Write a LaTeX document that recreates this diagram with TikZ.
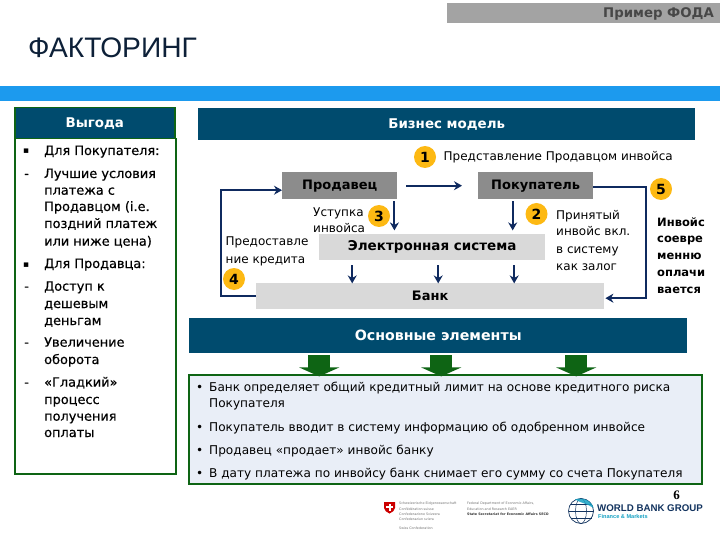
\documentclass[tikz,border=0pt]{standalone}
\usepackage{fontspec}
\usetikzlibrary{arrows.meta}
\setmainfont{DejaVu Sans}
\newfontfamily\arialf{Liberation Sans}
\newfontfamily\seriff{Liberation Serif}
\newfontfamily\medf[FakeBold=0.5]{DejaVu Sans}
\definecolor{band}{HTML}{004B6E}
\definecolor{skyb}{HTML}{1C9AEE}
\definecolor{grn}{HTML}{0E6414}
\definecolor{navy}{HTML}{0F2A5F}
\definecolor{gold}{HTML}{FDB913}
\definecolor{lightb}{HTML}{E9EEF7}
\definecolor{wbblue}{HTML}{12335F}
\definecolor{wbteal}{HTML}{17A2C4}
\definecolor{ttl}{HTML}{0D2038}
\tikzset{
  x=1pt,y=-1pt,
  bandbox/.style={fill=band,text=white,inner sep=0,anchor=north west,font=\fontsize{13.4}{15}\selectfont\bfseries},
  greybox/.style={fill=#1,inner sep=0,anchor=north west,font=\fontsize{13}{15}\selectfont\bfseries},
  arr/.style={draw=navy,line width=2pt,-{Stealth[length=8pt,width=9pt]}},
  bigarr/.style={draw=grn,line width=22pt,-{Triangle[length=9pt,width=40pt]}},
  num/.style={circle,fill=gold,minimum size=22pt,inner sep=0,font=\fontsize{14}{14}\selectfont\bfseries},
  txt/.style={anchor=base west,yshift=-4pt,inner sep=0,font=\fontsize{12}{14}\selectfont},
  ptxt/.style={anchor=base west,yshift=-4pt,inner sep=0,font=\fontsize{12.1}{14}\selectfont},
  btxt/.style={anchor=base west,yshift=-4pt,inner sep=0,font=\fontsize{11.5}{14}\selectfont\bfseries},
  ltxt/.style={anchor=base west,yshift=-4pt,inner sep=0,font=\medf\fontsize{12.9}{14}\selectfont},
  lbul/.style={anchor=base west,yshift=-4pt,inner sep=0,font=\fontsize{9}{10}\selectfont},
  tiny/.style={anchor=west,inner sep=0,text=black!55,font=\fontsize{3.3}{4}\selectfont},
}
\begin{document}
\begin{tikzpicture}
\useasboundingbox (0,0) rectangle (720,540);
\fill[white] (0,0) rectangle (720,540);
% header
\node[anchor=north west,fill=black!36,minimum width=273pt,minimum height=20pt,inner sep=0] (tag) at (447,3) {};
\node[anchor=east,inner sep=0,font=\fontsize{13.3}{15}\selectfont\bfseries,text=black!72] (tagt) at (714,14) {Пример ФОДА};
\node[anchor=west,inner sep=0,text=ttl,font=\arialf\fontsize{28.2}{30}\selectfont] (title) at (28,47.5) {ФАКТОРИНГ};
\node[anchor=north west,fill=skyb,minimum width=720pt,minimum height=15pt,inner sep=0] (sky) at (0,86) {};
% left panel
\node[anchor=north west,draw=grn,line width=1.5pt,minimum width=161pt,minimum height=335pt,inner sep=0] (panel) at (14,138) {};
\node[bandbox,draw=grn,line width=1.5pt,minimum width=160pt,minimum height=31pt] (vyg) at (14,107) {Выгода};
\node[lbul] (l1b) at (23,150) {▪};
\node[ltxt] (l1) at (44,151) {Для Покупателя:};
\node[ltxt] (l2b) at (24,174) {-};
\node[ltxt] (l2a) at (44,174) {Лучшие условия};
\node[ltxt] (l2c) at (44,190.7) {платежа с};
\node[ltxt] (l2d) at (44,207) {Продавцом (i.e.};
\node[ltxt] (l2e) at (44,224) {поздний платеж};
\node[ltxt] (l2f) at (44,241.7) {или ниже цена)};
\node[lbul] (l3b) at (23,263) {▪};
\node[ltxt] (l3) at (44,264) {Для Продавца:};
\node[ltxt] (l4b) at (24,286.7) {-};
\node[ltxt] (l4a) at (44,286.7) {Доступ к};
\node[ltxt] (l4c) at (44,304) {дешевым};
\node[ltxt] (l4d) at (44,321) {деньгам};
\node[ltxt] (l5b) at (24,342.7) {-};
\node[ltxt] (l5a) at (44,342.7) {Увеличение};
\node[ltxt] (l5c) at (44,360) {оборота};
\node[ltxt] (l6b) at (24,382.7) {-};
\node[ltxt] (l6a) at (44,382.7) {«Гладкий»};
\node[ltxt] (l6c) at (44,400) {процесс};
\node[ltxt] (l6d) at (44,416.7) {получения};
\node[ltxt] (l6e) at (44,433) {оплаты};
% business model
\node[bandbox,minimum width=497pt,minimum height=32pt] (biz) at (198,108) {Бизнес модель};
\node[num] (n1) at (425,157) {1};
\node[txt] (t1) at (443.5,157) {Представление Продавцом инвойса};
\node[greybox=black!45,minimum width=115pt,minimum height=27pt] (sel) at (282,172) {Продавец};
\node[greybox=black!45,minimum width=115pt,minimum height=27pt] (buy) at (478,172) {Покупатель};
\node[greybox=black!15,minimum width=226pt,minimum height=26pt,font=\fontsize{13.5}{15}\selectfont\bfseries] (sys) at (319,234) {Электронная система};
\node[greybox=black!15,minimum width=348pt,minimum height=26pt] (bank) at (256,283) {Банк};
\node[num] (n5) at (661,189) {5};
\node[num] (n3) at (379,216) {3};
\node[num] (n2) at (536.5,214) {2};
\node[num] (n4) at (234,279) {4};
\node[txt] (t3a) at (313,212) {Уступка};
\node[txt] (t3b) at (313,228.5) {инвойса};
\node[txt] (t4a) at (225.5,241.5) {Предоставле};
\node[txt] (t4b) at (225.5,259) {ние кредита};
\node[txt] (t2a) at (556,215) {Принятый};
\node[txt] (t2b) at (556,232) {инвойс вкл.};
\node[txt] (t2c) at (556,249) {в систему};
\node[txt] (t2d) at (556,266) {как залог};
\node[btxt] (t5a) at (657,222) {Инвойс};
\node[btxt] (t5b) at (657,238.5) {соевре};
\node[btxt] (t5c) at (657,255) {менню};
\node[btxt] (t5d) at (657,272) {оплачи};
\node[btxt] (t5e) at (657,289) {вается};
\draw[arr] ([xshift=9pt]sel.east) -- ([xshift=-16pt]buy.west);
\draw[arr] ([xshift=-3pt,yshift=-2pt]sel.south east) -- ([xshift=-3pt,yshift=-31pt]sel.south east);
\draw[arr] ([xshift=-23pt,yshift=-2pt]buy.south) -- ([xshift=-23pt,yshift=-31pt]buy.south);
\draw[arr] ([xshift=-80pt,yshift=-5pt]sys.south) -- ([xshift=-80pt,yshift=-23pt]sys.south);
\draw[arr] ([xshift=6pt,yshift=-5pt]sys.south) -- ([xshift=6pt,yshift=-23pt]sys.south);
\draw[arr] ([xshift=82pt,yshift=-5pt]sys.south) -- ([xshift=82pt,yshift=-23pt]sys.south);
\draw[arr] (bank.west) -- ++(-35,0) |- ([yshift=-4.5pt]sel.west);
\draw[arr] ([yshift=-1.5pt]buy.east) -- ++(53,0) |- ([xshift=1pt,yshift=-2pt]bank.east);
% main elements
\node[bandbox,minimum width=498pt,minimum height=35pt,font=\fontsize{14.2}{16}\selectfont\bfseries] (elem) at (189,318) {Основные элементы};
\node[anchor=north west,draw=grn,line width=2pt,fill=lightb,minimum width=513pt,minimum height=109pt,inner sep=0] (pts) at (188,374) {};
\draw[bigarr] ([xshift=-119pt,yshift=-2pt]elem.south) -- ([xshift=-119pt,yshift=-23pt]elem.south);
\draw[bigarr] ([xshift=3pt,yshift=-2pt]elem.south) -- ([xshift=3pt,yshift=-23pt]elem.south);
\draw[bigarr] ([xshift=138pt,yshift=-2pt]elem.south) -- ([xshift=138pt,yshift=-23pt]elem.south);
\node[ptxt] (p1b) at (196,387.7) {•};
\node[ptxt] (p1a) at (209,387.7) {Банк определяет общий кредитный лимит на основе кредитного риска};
\node[ptxt] (p1c) at (209,403.5) {Покупателя};
\node[ptxt] (p2b) at (196,427) {•};
\node[ptxt] (p2) at (209,427) {Покупатель вводит в систему информацию об одобренном инвойсе};
\node[ptxt] (p3b) at (196,450) {•};
\node[ptxt] (p3) at (209,450) {Продавец «продает» инвойс банку};
\node[ptxt] (p4b) at (196,473) {•};
\node[ptxt] (p4) at (209,473) {В дату платежа по инвойсу банк снимает его сумму со счета Покупателя};
% page number
\node[anchor=center,inner sep=0,font=\seriff\bfseries\fontsize{13}{13}\selectfont] (pg) at (676.5,495.5) {6};
% Swiss logo
\fill[red!80!black] (384,502) -- (395,502) -- (395,508) .. controls (395,510.5) and (392,512.5) .. (389.5,513.5) .. controls (387,512.5) and (384,510.5) .. (384,508) -- cycle;
\fill[white] (388.5,503.8) rectangle (390.5,510.5);
\fill[white] (386.2,506.1) rectangle (392.8,508.1);
\node[tiny] (s1) at (399,504) {Schweizerische Eidgenossenschaft};
\node[tiny] (s2) at (399,509) {Confédération suisse};
\node[tiny] (s3) at (399,514) {Confederazione Svizzera};
\node[tiny] (s4) at (399,519) {Confederaziun svizra};
\node[tiny] (s5) at (399,528) {Swiss Confederation};
\node[tiny] (f1) at (467,504) {Federal Department of Economic Affairs,};
\node[tiny] (f2) at (467,509) {Education and Research EAER};
\node[tiny,text=black!80,font=\fontsize{3.3}{4}\selectfont\bfseries] (f3) at (467,514) {State Secretariat for Economic Affairs SECO};
% WBG logo
\draw[wbblue,line width=.7pt] (581,511) circle (12.5);
\draw[wbblue,line width=.5pt] (581,511) ellipse (5.5 and 12.5);
\draw[wbblue,line width=.5pt] (568.5,511) -- (593.5,511);
\draw[wbblue,line width=.5pt] (570.5,504) -- (591.5,504);
\draw[wbblue,line width=.5pt] (570.5,518) -- (591.5,518);
\fill[wbteal,opacity=.85] (575,499.5) .. controls (583,496.5) and (592,501) .. (593.5,508) .. controls (588,504) and (581,503) .. (575,499.5) -- cycle;
\node[anchor=west,inner sep=0,text=wbblue,font=\arialf\bfseries\fontsize{9.7}{11}\selectfont] (wb) at (597,508) {WORLD BANK GROUP};
\node[anchor=west,inner sep=0,text=wbteal,font=\arialf\bfseries\fontsize{5.6}{7}\selectfont] (fm) at (598,516) {Finance \& Markets};
\end{tikzpicture}
\end{document}
